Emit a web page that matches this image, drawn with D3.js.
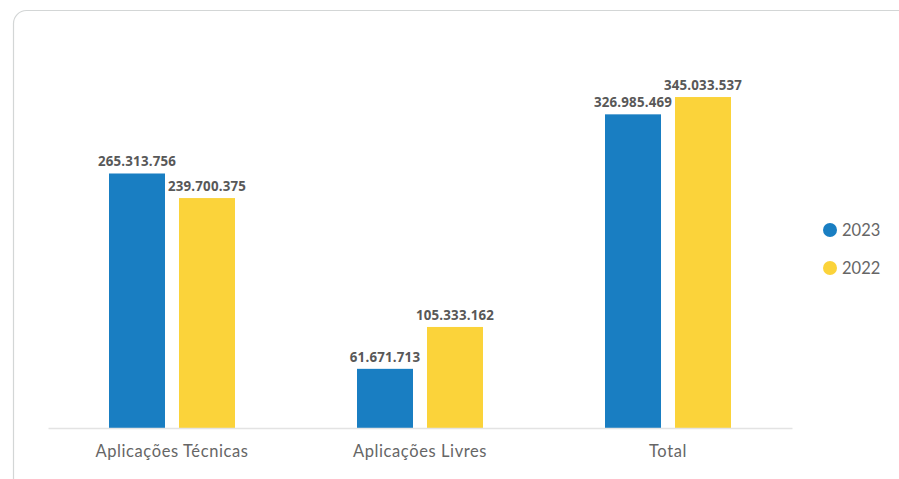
<!DOCTYPE html>
<html><head><meta charset="utf-8">
<script src="https://cdn.jsdelivr.net/npm/d3@7"></script>
<style>html,body{margin:0;padding:0;background:#fff;}svg{display:block;}</style>
</head><body>
<svg id="chart" width="899" height="479"></svg>
<script>
const categories = ["Aplicações Técnicas", "Aplicações Livres", "Total"];
const seriesNames = ["2023", "2022"];
const values2023 = [265313756, 61671713, 326985469];
const values2022 = [239700375, 105333162, 345033537];
const labels2023 = ["265.313.756", "61.671.713", "326.985.469"];
const labels2022 = ["239.700.375", "105.333.162", "345.033.537"];
const colors = ["#197EC2", "#FBD33A"];

const svg = d3.select("#chart");
// card
svg.append("rect").attr("x", 13.5).attr("y", 10.5).attr("width", 1000).attr("height", 1000)
  .attr("rx", 13).attr("fill", "#fff").attr("stroke", "#d3d6d6").attr("stroke-width", 1.2);

const x0 = d3.scaleBand().domain(categories).range([48, 792]).paddingInner(0).paddingOuter(0);
const x1 = d3.scaleBand().domain(seriesNames).range([0, 126]).paddingInner(0.2);
const y = d3.scaleLinear().domain([0, 400000000]).range([428, 44.3]);

const data = categories.map((c, i) => ({
  cat: c,
  vals: [
    {s: "2023", v: values2023[i], l: labels2023[i], c: colors[0]},
    {s: "2022", v: values2022[i], l: labels2022[i], c: colors[1]}
  ]
}));

const g = svg.append("g");
const groups = g.selectAll("g.grp").data(data).enter().append("g")
  .attr("transform", d => `translate(${x0(d.cat) + (x0.bandwidth() - 126) / 2},0)`);
groups.selectAll("rect").data(d => d.vals).enter().append("rect")
  .attr("x", d => x1(d.s)).attr("width", x1.bandwidth())
  .attr("y", d => y(d.v)).attr("height", d => y(0) - y(d.v)).attr("fill", d => d.c);
groups.selectAll("text").data(d => d.vals).enter().append("text")
  .attr("x", d => x1(d.s) + x1.bandwidth() / 2).attr("y", d => y(d.v) - 7)
  .attr("text-anchor", "middle").attr("font-family", "'Open Sans', sans-serif")
  .attr("font-weight", "bold").attr("font-size", 13.3).attr("fill", "#585858")
  .attr("letter-spacing", 0.2)
  .text(d => d.l);

// axis
const xAxis = d3.axisBottom(x0).tickSize(0).tickPadding(17);
const ax = svg.append("g").attr("transform", "translate(0,428)").call(xAxis);
ax.select(".domain").attr("stroke", "#e3e3e3").attr("stroke-width", 1.5);
ax.selectAll("text").attr("font-family", "Lato, sans-serif").attr("font-size", 16.5)
  .attr("fill", "#666").attr("letter-spacing", 0.6);

// legend
const leg = svg.append("g").attr("transform", "translate(830,230)");
const li = leg.selectAll("g").data(seriesNames).enter().append("g")
  .attr("transform", (d, i) => `translate(0,${i * 38})`);
li.append("circle").attr("r", 7).attr("fill", (d, i) => colors[i]);
li.append("text").attr("x", 12).attr("dy", "0.36em").attr("font-family", "Lato, sans-serif")
  .attr("font-size", 16.5).attr("fill", "#666").text(d => d);
</script>
</body></html>
